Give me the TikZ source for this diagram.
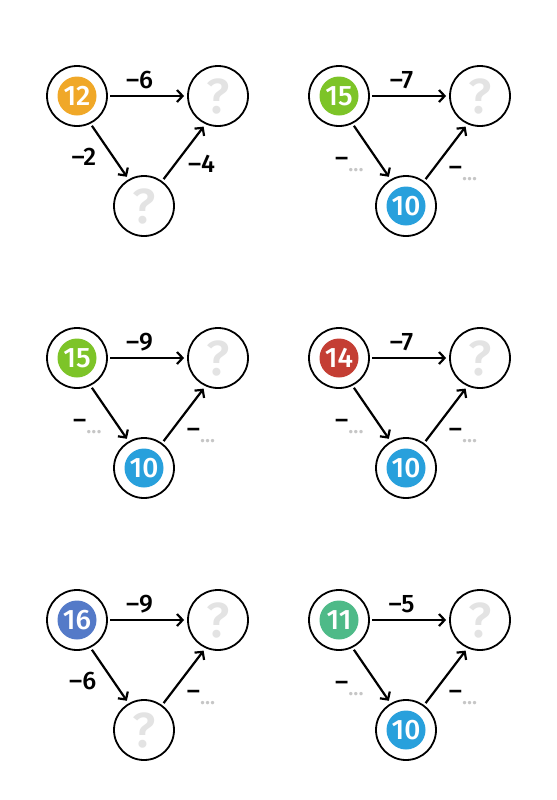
\documentclass[tikz,border=0pt]{standalone}
\usepackage{fontspec}
\setmainfont{Fira Sans}
\newfontfamily\medfont{Fira Sans Medium}
\usepackage{xcolor}
\usepackage{tikz}
\usetikzlibrary{arrows.meta,calc,positioning}
\definecolor{orangecol}{RGB}{240,168,40}
\definecolor{limecol}{RGB}{125,196,40}
\definecolor{redcol}{RGB}{196,62,52}
\definecolor{bluecol}{RGB}{84,122,200}
\definecolor{mintcol}{RGB}{78,186,136}
\definecolor{skycol}{RGB}{40,160,220}
\newcommand{\blank}{\textendash\textcolor{gray!45}{\raisebox{-0.35ex}{\fontsize{30}{30}\selectfont...}}}

\begin{document}
\begin{tikzpicture}[
        x=0.5mm, y=-0.5mm,
        ring/.style={circle, draw=black, line width=0.9mm, fill=white, minimum size=30mm, inner sep=0pt,
            text=gray!22, font=\fontsize{70}{70}\selectfont\medfont},
        disc/.style={circle, minimum size=19.5mm, inner sep=0pt, text=white, font=\fontsize{40}{40}\selectfont\medfont},
        arr/.style={line width=1.1mm, -{Straight Barb[length=2.8mm,width=6mm]}, shorten >=1.5mm, shorten <=1.2mm},
        lbl/.style={font=\fontsize{36}{36}\selectfont\medfont, inner sep=0pt}
    ]
        \useasboundingbox (0,0) rectangle (557,800);

        % 12
        \node[ring] (s1) at (77,96) {};
        \node[disc, fill=orangecol] (n1) at (s1) {12};
        \node[ring] (t1) at ($(s1)+(141,0)$) {?};
        \node[ring] (b1) at ($(s1)+(67,110)$) {?};
        \draw[arr] (s1) -- node[lbl, pos=0.4, above=3mm] (e1) {\textendash6} (t1);
        \draw[arr] (s1.-64) -- node[lbl, pos=0.6, left=8mm] (f1) {\textendash2} (b1.120);
        \draw[arr] (b1.54) -- node[lbl, pos=0.3, right=6mm] (g1) {\textendash4} (t1.246);

        % 15 (top right)
        \node[ring] (s2) at (339,96) {};
        \node[disc, fill=limecol] (n2) at (s2) {15};
        \node[ring] (t2) at ($(s2)+(141,0)$) {?};
        \node[ring] (b2) at ($(s2)+(67,110)$) {};
        \node[disc, fill=skycol] (m2) at (b2) {10};
        \draw[arr] (s2) -- node[lbl, pos=0.4, above=3mm] (e2) {\textendash7} (t2);
        \draw[arr] (s2.-64) -- node[lbl, pos=0.74, left=8mm] (f2) {\blank} (b2.120);
        \draw[arr] (b2.54) -- node[lbl, pos=0.13, right=9mm] (g2) {\blank} (t2.246);

        % 15 (middle left)
        \node[ring] (s3) at (77,358) {};
        \node[disc, fill=limecol] (n3) at (s3) {15};
        \node[ring] (t3) at ($(s3)+(141,0)$) {?};
        \node[ring] (b3) at ($(s3)+(67,110)$) {};
        \node[disc, fill=skycol] (m3) at (b3) {10};
        \draw[arr] (s3) -- node[lbl, pos=0.4, above=3mm] (e3) {\textendash9} (t3);
        \draw[arr] (s3.-64) -- node[lbl, pos=0.74, left=8mm] (f3) {\blank} (b3.120);
        \draw[arr] (b3.54) -- node[lbl, pos=0.13, right=9mm] (g3) {\blank} (t3.246);

        % 14
        \node[ring] (s4) at (339,358) {};
        \node[disc, fill=redcol] (n4) at (s4) {14};
        \node[ring] (t4) at ($(s4)+(141,0)$) {?};
        \node[ring] (b4) at ($(s4)+(67,110)$) {};
        \node[disc, fill=skycol] (m4) at (b4) {10};
        \draw[arr] (s4) -- node[lbl, pos=0.4, above=3mm] (e4) {\textendash7} (t4);
        \draw[arr] (s4.-64) -- node[lbl, pos=0.74, left=8mm] (f4) {\blank} (b4.120);
        \draw[arr] (b4.54) -- node[lbl, pos=0.13, right=9mm] (g4) {\blank} (t4.246);

        % 16
        \node[ring] (s5) at (77,620) {};
        \node[disc, fill=bluecol] (n5) at (s5) {16};
        \node[ring] (t5) at ($(s5)+(141,0)$) {?};
        \node[ring] (b5) at ($(s5)+(67,110)$) {?};
        \draw[arr] (s5) -- node[lbl, pos=0.4, above=3mm] (e5) {\textendash9} (t5);
        \draw[arr] (s5.-64) -- node[lbl, pos=0.6, left=8mm] (f5) {\textendash6} (b5.120);
        \draw[arr] (b5.54) -- node[lbl, pos=0.13, right=9mm] (g5) {\blank} (t5.246);

        % 11
        \node[ring] (s6) at (339,620) {};
        \node[disc, fill=mintcol] (n6) at (s6) {11};
        \node[ring] (t6) at ($(s6)+(141,0)$) {?};
        \node[ring] (b6) at ($(s6)+(67,110)$) {};
        \node[disc, fill=skycol] (m6) at (b6) {10};
        \draw[arr] (s6) -- node[lbl, pos=0.4, above=3mm] (e6) {\textendash5} (t6);
        \draw[arr] (s6.-64) -- node[lbl, pos=0.74, left=8mm] (f6) {\blank} (b6.120);
        \draw[arr] (b6.54) -- node[lbl, pos=0.13, right=9mm] (g6) {\blank} (t6.246);
    \end{tikzpicture}
\end{document}
